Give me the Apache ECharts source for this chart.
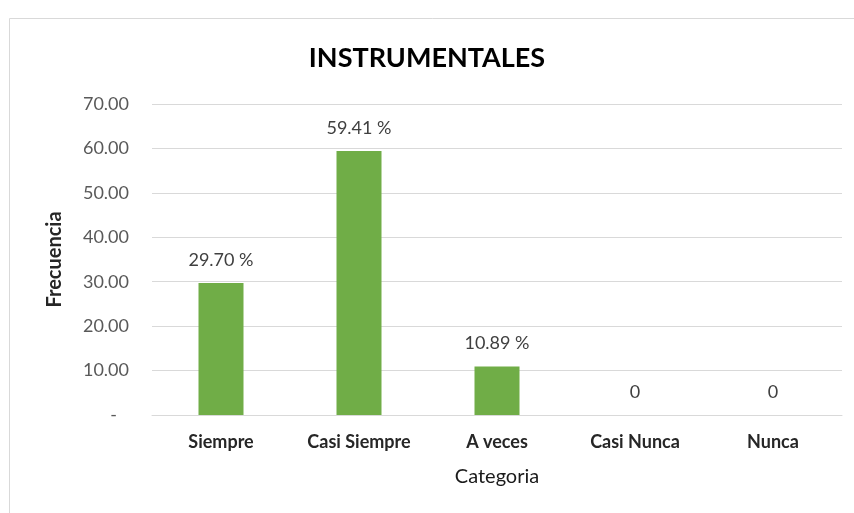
<!DOCTYPE html>
<html>
<head>
<meta charset="utf-8">
<script src="https://cdn.jsdelivr.net/npm/echarts@6/dist/echarts.min.js"></script>
<style>html,body{margin:0;padding:0;background:#fff}#c{width:854px;height:513px}</style>
</head>
<body>
<div id="c"></div>
<script>
var titleText = 'INSTRUMENTALES';
var categories = ['Siempre', 'Casi Siempre', 'A veces', 'Casi Nunca', 'Nunca'];
var values = [29.70, 59.41, 10.89, 0, 0];
var dataLabels = ['29.70 %', '59.41 %', '10.89 %', '0', '0'];
var yName = 'Frecuencia';
var xName = 'Categoria';

var FONT = 'Lato, "Open Sans", sans-serif';
var chart = echarts.init(document.getElementById('c'));
chart.setOption({
  animation: false,
  backgroundColor: '#fff',
  graphic: [{
    type: 'rect', left: 7, top: 16, silent: true,
    shape: { width: 900, height: 600 },
    style: { fill: 'none', stroke: '#d9d9d9', lineWidth: 1 }
  }],
  title: {
    text: titleText, left: 'center', top: 40,
    textStyle: { fontFamily: FONT, fontSize: 27, fontWeight: 'bold', color: '#000' }
  },
  grid: { left: 152, right: 12, top: 104, bottom: 98 },
  xAxis: {
    type: 'category', data: categories,
    name: xName, nameLocation: 'middle', nameGap: 52,
    nameTextStyle: { fontFamily: FONT, fontSize: 20, color: '#1a1a1a' },
    axisLine: { lineStyle: { color: '#d9d9d9', width: 1 } },
    axisTick: { show: false },
    axisLabel: { fontFamily: FONT, fontSize: 18, fontWeight: 'bold', color: '#262626', margin: 18 }
  },
  yAxis: {
    type: 'value', min: 0, max: 70, interval: 10,
    name: yName, nameLocation: 'middle', nameGap: 87, nameRotate: 90,
    nameTextStyle: { fontFamily: FONT, fontSize: 20, fontWeight: 'bold', color: '#262626' },
    axisLine: { show: false }, axisTick: { show: false },
    splitLine: { lineStyle: { color: '#d9d9d9', width: 1 } },
    axisLabel: {
      fontFamily: FONT, fontSize: 18, color: '#595959', margin: 23,
      formatter: function (v) { return v === 0 ? '{z|-}' : v.toFixed(2); },
      rich: { z: { fontFamily: FONT, fontSize: 18, color: '#595959', padding: [0, 12, 0, 0] } }
    }
  },
  series: [{
    type: 'bar', data: values, barWidth: 45,
    itemStyle: { color: '#70ad47' },
    label: {
      show: true, position: 'top', distance: 14,
      fontFamily: FONT, fontSize: 18, color: '#404040',
      formatter: function (p) { return dataLabels[p.dataIndex]; }
    }
  }]
});
</script>
</body>
</html>
